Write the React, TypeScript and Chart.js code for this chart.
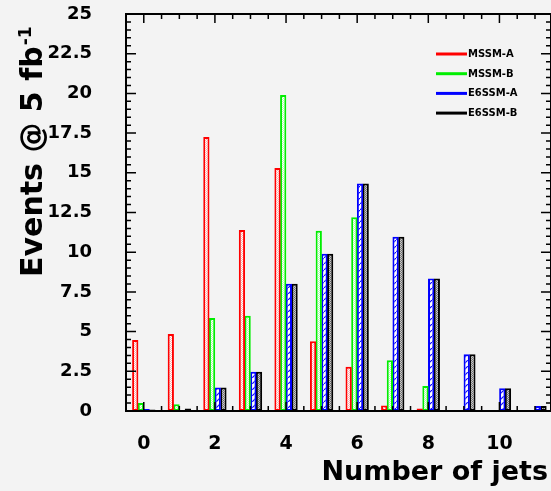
import { useEffect, useRef } from 'react';
import { Chart, registerables } from 'chart.js';

Chart.register(...registerables);

// ---- data ----
const jets = [0, 1, 2, 3, 4, 5, 6, 7, 8, 9, 10, 11];
const seriesNames = ['MSSM-A', 'MSSM-B', 'E6SSM-A', 'E6SSM-B'];
const mssmA = [4.47, 4.85, 17.25, 11.4, 15.3, 4.4, 2.78, 0.35, 0.15, 0, 0, 0];
const mssmB = [0.5, 0.42, 5.85, 6.0, 19.9, 11.35, 12.2, 3.2, 1.57, 0, 0, 0];
const e6ssmA = [0.12, 0, 1.48, 2.47, 8.02, 9.9, 14.33, 10.97, 8.34, 3.57, 1.44, 0.32];
const e6ssmB = [0.1, 0.15, 1.48, 2.47, 8.02, 9.9, 14.33, 10.97, 8.34, 3.57, 1.44, 0.32];
const xTickValues = [0, 2, 4, 6, 8, 10];
const xTickLabels = ['0', '2', '4', '6', '8', '10'];
const yTickValues = [0, 2.5, 5, 7.5, 10, 12.5, 15, 17.5, 20, 22.5, 25];
const yTickLabels = ['0', '2.5', '5', '7.5', '10', '12.5', '15', '17.5', '20', '22.5', '25'];
const xTitle = 'Number of jets';
const yTitle = 'Events @ 5 fb';
const yTitleSup = '-1';

const FONT = '"DejaVu Sans", "Liberation Sans", sans-serif';
const BG = '#f3f3f3';

function makePattern(kind: string): CanvasPattern | string {
  const c = document.createElement('canvas');
  const g = c.getContext('2d');
  if (!g) return '#fff';
  if (kind === 'blue') {
    c.width = 6; c.height = 6;
    g.fillStyle = '#ffffff'; g.fillRect(0, 0, 6, 6);
    g.strokeStyle = '#0000ff'; g.lineWidth = 1.2;
    g.beginPath(); g.moveTo(0, 6); g.lineTo(6, 0); g.stroke();
  } else {
    c.width = 2; c.height = 2;
    const [a, b] = kind === 'red' ? ['#ffffff', '#ffb0b0'] : kind === 'green' ? ['#ffffff', '#b0ffb0'] : ['#c8c8c8', '#6e6e6e'];
    g.fillStyle = a; g.fillRect(0, 0, 2, 2);
    g.fillStyle = b; g.fillRect(1, 0, 1, 1); g.fillRect(0, 1, 1, 1);
  }
  return g.createPattern(c, 'repeat') || '#fff';
}

const framePlugin = {
  id: 'rootFrame',
  beforeDraw(chart: any) {
    const { ctx } = chart;
    ctx.save();
    ctx.fillStyle = BG;
    ctx.fillRect(0, 0, chart.width, chart.height);
    ctx.restore();
  },
  afterDatasetsDraw(chart: any) {
    const { ctx, chartArea, scales } = chart;
    const { left, right, top, bottom } = chartArea;
    const x = scales.x, y = scales.y;
    ctx.save();
    ctx.strokeStyle = '#000';
    ctx.lineWidth = 1.5;
    ctx.beginPath();
    for (let k = 0; k <= 50; k++) {
      const v = k * 0.5;
      const py = y.getPixelForValue(v);
      const len = k % 5 === 0 ? 10 : 5;
      ctx.moveTo(left, py); ctx.lineTo(left + len, py);
      ctx.moveTo(right, py); ctx.lineTo(right - len, py);
    }
    for (let k = -1; k <= 23; k++) {
      const v = k * 0.5;
      const px = x.getPixelForValue(v);
      if (px < left || px > right) continue;
      const len = k % 4 === 0 ? 9 : 5;
      ctx.moveTo(px, bottom); ctx.lineTo(px, bottom - len);
      ctx.moveTo(px, top); ctx.lineTo(px, top + len);
    }
    ctx.stroke();
    ctx.lineWidth = 2;
    ctx.strokeRect(left, top, right - left, bottom - top);
    ctx.restore();
  },
  afterDraw(chart: any) {
    const { ctx } = chart;
    ctx.save();
    ctx.fillStyle = '#000';
    // x title
    ctx.font = `bold 27px ${FONT}`;
    ctx.textAlign = 'right';
    ctx.textBaseline = 'alphabetic';
    ctx.fillText(xTitle, 548, 480);
    // y title
    ctx.translate(42, 277);
    ctx.rotate(-Math.PI / 2);
    ctx.textAlign = 'left';
    ctx.font = `bold 30px ${FONT}`;
    ctx.fillText(yTitle, 0, 0);
    const w = ctx.measureText(yTitle).width;
    ctx.font = `bold 17px ${FONT}`;
    ctx.fillText(yTitleSup, w + 1, -11);
    ctx.restore();
    // legend
    ctx.save();
    const ds = chart.data.datasets;
    ctx.font = `bold 10px ${FONT}`;
    ctx.textAlign = 'left';
    ctx.textBaseline = 'middle';
    for (let i = 0; i < ds.length; i++) {
      const yy = 54 + i * 19.7;
      ctx.strokeStyle = ds[i].borderColor;
      ctx.lineWidth = 3;
      ctx.beginPath(); ctx.moveTo(436, yy); ctx.lineTo(467, yy); ctx.stroke();
      ctx.fillStyle = '#000';
      ctx.fillText(ds[i].label, 468, yy + 0.5);
    }
    ctx.restore();
  },
};

export default function App() {
  const ref = useRef<HTMLCanvasElement | null>(null);
  useEffect(() => {
    if (!ref.current) return;
    const series = [mssmA, mssmB, e6ssmA, e6ssmB];
    const colors = ['#ff0000', '#00ee00', '#0000ff', '#000000'];
    const kinds = ['red', 'green', 'blue', 'black'];
    const chart = new Chart(ref.current, {
      type: 'bar',
      data: {
        datasets: series.map((s, i) => ({
          label: seriesNames[i],
          data: jets.map((j, k) => ({ x: j, y: s[k] })),
          borderColor: colors[i],
          backgroundColor: makePattern(kinds[i]) as any,
          borderWidth: 2,
          borderSkipped: false as any,
          categoryPercentage: 0.64,
          barPercentage: 1.1,
        })),
      },
      options: {
        animation: false,
        responsive: true,
        maintainAspectRatio: false,
        layout: { padding: { top: 14, left: 0, right: 0, bottom: 0 } },
        plugins: { legend: { display: false }, tooltip: { enabled: false }, title: { display: false } },
        scales: {
          x: {
            type: 'linear',
            min: -0.5,
            max: 11.45,
            offset: false,
            grid: { display: false },
            border: { display: false },
            afterBuildTicks: (axis: any) => { axis.ticks = xTickValues.map((v) => ({ value: v })); },
            afterFit: (axis: any) => { axis.height = 80; axis.paddingLeft = 0; axis.paddingRight = 0; },
            ticks: {
              color: '#000',
              font: { family: FONT, size: 19, weight: 'bold' },
              padding: 14,
              maxRotation: 0,
              autoSkip: false,
              callback: (v: any) => { const i = xTickValues.indexOf(Number(v)); return i >= 0 ? xTickLabels[i] : ''; },
            },
          },
          y: {
            min: 0,
            max: 25,
            grid: { display: false },
            border: { display: false },
            afterBuildTicks: (axis: any) => { axis.ticks = yTickValues.map((v) => ({ value: v })); },
            afterFit: (axis: any) => { axis.width = 126; axis.paddingTop = 0; axis.paddingBottom = 0; },
            ticks: {
              color: '#000',
              font: { family: FONT, size: 18, weight: 'bold' },
              padding: 26,
              autoSkip: false,
              callback: (v: any) => { const i = yTickValues.indexOf(Number(v)); return i >= 0 ? yTickLabels[i] : ''; },
            },
          },
        },
      },
      plugins: [framePlugin as any],
    });
    return () => chart.destroy();
  }, []);
  return (
    <div style={{ position: 'fixed', left: 0, top: 0, width: 551, height: 491 }}>
      <canvas ref={ref} />
    </div>
  );
}
